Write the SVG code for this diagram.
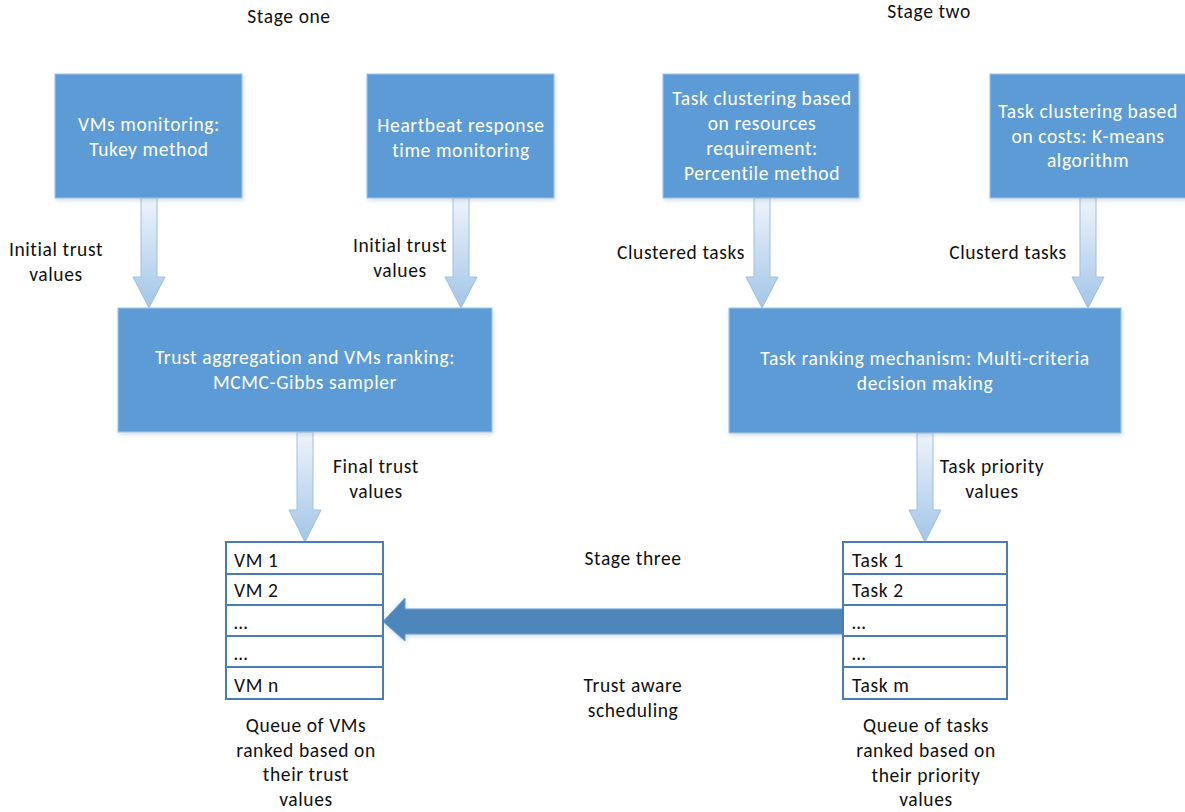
<svg xmlns="http://www.w3.org/2000/svg" width="1185" height="812" viewBox="0 0 1185 812">
  <style>
    text { font-family: Calibri, Carlito, Lato, "Liberation Sans", sans-serif; font-size: 19.5px; letter-spacing: 0.6px; fill: #111; }
    .box { fill: #5b9bd5; stroke: #a9c5e3; stroke-width: 1; filter: url(#shadow); }
    .btxt { fill: #ffffff; text-anchor: middle; }
    .lbl { text-anchor: middle; }
    .q { fill: #ffffff; stroke: #4a7db4; stroke-width: 2; }
    .qline { stroke: #4a7db4; stroke-width: 2; }
    .down { fill: url(#flow); stroke: #9dbfe2; stroke-width: 1; }
    .big { fill: #4e86ba; stroke: #6b9dd0; stroke-width: 1; filter: url(#shadow); }
  </style>
  <defs>
    <linearGradient id="flow" x1="0" y1="0" x2="0" y2="1">
      <stop offset="0" stop-color="#eef4fb"/>
      <stop offset="1" stop-color="#a2c5e8"/>
    </linearGradient>
    <filter id="shadow" x="-5%" y="-5%" width="110%" height="115%">
      <feDropShadow dx="1" dy="2" stdDeviation="2" flood-color="#7f9fbf" flood-opacity="0.35"/>
    </filter>
  </defs>

  <rect width="1185" height="812" fill="#ffffff"/>

  <!-- stage headings -->
  <text class="lbl" x="289" y="23">Stage one</text>
  <text class="lbl" x="929" y="18">Stage two</text>
  <text class="lbl" x="633" y="565">Stage three</text>

  <!-- connectors -->
  <g id="connectors">
    <path class="down" d="M141,198 H157 V277 H165 L149,308 L133,277 H141 Z"/>
    <path class="down" d="M453,198 H469 V277 H477 L461,308 L445,277 H453 Z"/>
    <path class="down" d="M754,198 H770 V277 H778 L762,308 L746,277 H754 Z"/>
    <path class="down" d="M1080,198 H1096 V277 H1104 L1088,308 L1072,277 H1080 Z"/>
    <path class="down" d="M297,432 H313 V510 H321 L305,542 L289,510 H297 Z"/>
    <path class="down" d="M917,433 H933 V510 H941 L925,542 L909,510 H917 Z"/>
    <path class="big" d="M843,609 V634 H405 V641 L383,621.5 L405,598 V609 Z"/>

    <text class="lbl" x="56" y="256">Initial trust</text>
    <text class="lbl" x="56" y="281">values</text>
    <text class="lbl" x="400" y="252">Initial trust</text>
    <text class="lbl" x="400" y="277">values</text>
    <text class="lbl" x="681" y="259">Clustered tasks</text>
    <text class="lbl" x="1008" y="259">Clusterd tasks</text>
    <text class="lbl" x="376" y="473">Final trust</text>
    <text class="lbl" x="376" y="498">values</text>
    <text class="lbl" x="992" y="473">Task priority</text>
    <text class="lbl" x="992" y="498">values</text>
    <text class="lbl" x="633" y="692">Trust aware</text>
    <text class="lbl" x="633" y="717">scheduling</text>
  </g>

  <!-- stage one -->
  <g id="vm-monitoring">
    <rect class="box" x="55" y="74" width="187" height="124"/>
    <text class="btxt" x="149" y="131">VMs monitoring:</text>
    <text class="btxt" x="149" y="156">Tukey method</text>
  </g>
  <g id="heartbeat">
    <rect class="box" x="367" y="74" width="187" height="124"/>
    <text class="btxt" x="461" y="132">Heartbeat response</text>
    <text class="btxt" x="461" y="157">time monitoring</text>
  </g>
  <g id="trust-aggregation">
    <rect class="box" x="118" y="308" width="374" height="124"/>
    <text class="btxt" x="305" y="364">Trust aggregation and VMs ranking:</text>
    <text class="btxt" x="305" y="389">MCMC-Gibbs sampler</text>
  </g>

  <!-- stage two -->
  <g id="clustering-resources">
    <rect class="box" x="663" y="74" width="196" height="124"/>
    <text class="btxt" x="762" y="105">Task clustering based</text>
    <text class="btxt" x="762" y="130">on resources</text>
    <text class="btxt" x="762" y="155">requirement:</text>
    <text class="btxt" x="762" y="180">Percentile method</text>
  </g>
  <g id="clustering-costs">
    <rect class="box" x="990" y="74" width="196" height="124"/>
    <text class="btxt" x="1088" y="118">Task clustering based</text>
    <text class="btxt" x="1088" y="143">on costs: K-means</text>
    <text class="btxt" x="1088" y="167">algorithm</text>
  </g>
  <g id="task-ranking">
    <rect class="box" x="729" y="308" width="392" height="125"/>
    <text class="btxt" x="925" y="365">Task ranking mechanism: Multi-criteria</text>
    <text class="btxt" x="925" y="390">decision making</text>
  </g>

  <!-- queues -->
  <g id="vm-queue">
    <rect class="q" x="226" y="542" width="157" height="157"/>
    <line class="qline" x1="226" y1="574" x2="383" y2="574"/>
    <line class="qline" x1="226" y1="605" x2="383" y2="605"/>
    <line class="qline" x1="226" y1="636" x2="383" y2="636"/>
    <line class="qline" x1="226" y1="667" x2="383" y2="667"/>
    <text x="234" y="567">VM 1</text>
    <text x="234" y="597">VM 2</text>
    <text x="234" y="629">…</text>
    <text x="234" y="660">…</text>
    <text x="234" y="692">VM n</text>
    <text class="lbl" x="306" y="732">Queue of VMs</text>
    <text class="lbl" x="306" y="757">ranked based on</text>
    <text class="lbl" x="306" y="781">their trust</text>
    <text class="lbl" x="306" y="806">values</text>
  </g>
  <g id="task-queue">
    <rect class="q" x="843" y="542" width="164" height="157"/>
    <line class="qline" x1="843" y1="574" x2="1007" y2="574"/>
    <line class="qline" x1="843" y1="605" x2="1007" y2="605"/>
    <line class="qline" x1="843" y1="636" x2="1007" y2="636"/>
    <line class="qline" x1="843" y1="667" x2="1007" y2="667"/>
    <text x="852" y="567">Task 1</text>
    <text x="852" y="597">Task 2</text>
    <text x="852" y="629">…</text>
    <text x="852" y="660">…</text>
    <text x="852" y="692">Task m</text>
    <text class="lbl" x="926" y="732">Queue of tasks</text>
    <text class="lbl" x="926" y="757">ranked based on</text>
    <text class="lbl" x="926" y="782">their priority</text>
    <text class="lbl" x="926" y="806">values</text>
  </g>
</svg>
